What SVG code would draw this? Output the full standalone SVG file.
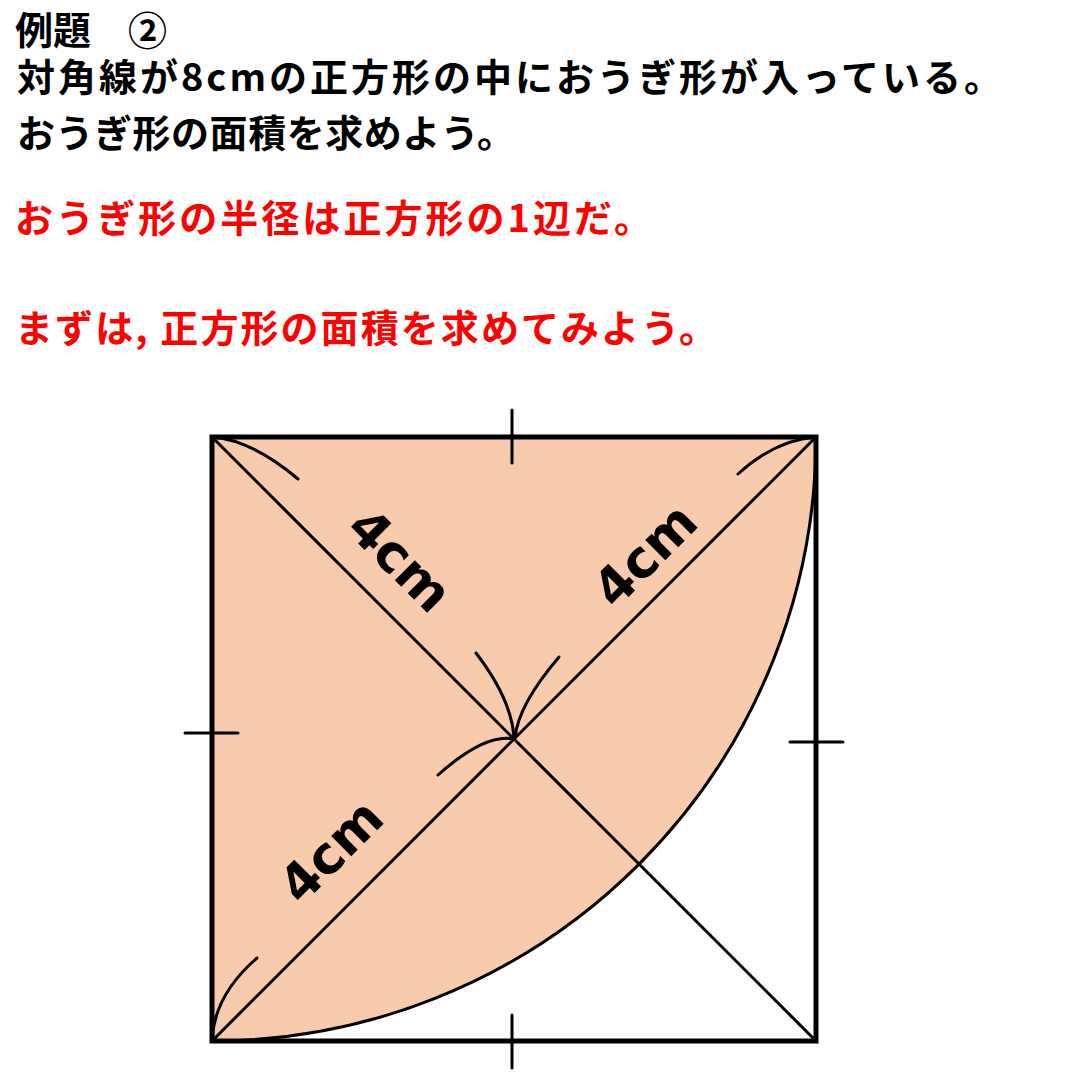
<svg xmlns="http://www.w3.org/2000/svg" width="1080" height="1080" viewBox="0 0 1080 1080">
<style>
.t{font-family:"Noto Sans CJK JP","Noto Sans",sans-serif;font-weight:bold;font-size:38px}
.blk{fill:#000}
.red{fill:#ff0000}
.ln{stroke:#000;stroke-width:3;fill:none;stroke-linecap:round}
.lbl{font-family:"DejaVu Sans","Liberation Sans",sans-serif;font-weight:bold;font-size:52px;fill:#000;text-anchor:middle;dominant-baseline:central}
</style>
<rect width="1080" height="1080" fill="#fff"/>
<g id="title">
<text class="t blk"><tspan x="15" y="44">例題</tspan><tspan x="128" y="45" style="font-size:39px">②</tspan><tspan x="17" y="91" textLength="985" lengthAdjust="spacing">対角線が8cmの正方形の中におうぎ形が入っている。</tspan><tspan x="17" y="147" textLength="498" lengthAdjust="spacing">おうぎ形の面積を求めよう。</tspan></text>
</g>
<g id="hints">
<text class="t red" x="15" y="232" textLength="637" lengthAdjust="spacing">おうぎ形の半径は正方形の1辺だ。</text>
<text class="t red" x="15" y="342" textLength="702" lengthAdjust="spacing">まずは, 正方形の面積を求めてみよう。</text>
</g>
<g id="sector">
<path d="M212,437 L816,437 A604,604 0 0 1 212,1041 Z" fill="#f7cbac" stroke="none"/>
<path d="M816,437 A604,604 0 0 1 212,1041" class="ln"/>
</g>
<g id="square">
<rect x="212" y="437" width="604" height="604" fill="none" stroke="#000" stroke-width="5"/>
</g>
<g id="connectors">
<line x1="212" y1="437" x2="816" y2="1041" class="ln"/>
<line x1="816" y1="437" x2="212" y2="1041" class="ln"/>
<path d="M212,437 Q252,440 298,479" class="ln"/>
<path d="M816,437 Q775,440 738,474" class="ln"/>
<path d="M476,653 Q512,700 514,738" class="ln"/>
<path d="M559,657 Q518,705 515,738" class="ln"/>
<path d="M438,775 Q485,733 514,739" class="ln"/>
<path d="M212,1041 Q214,995 257,958" class="ln"/>
</g>
<g id="ticks">
<line x1="512" y1="410" x2="512" y2="463" class="ln"/>
<line x1="512" y1="1015" x2="512" y2="1068" class="ln"/>
<line x1="185" y1="733" x2="238" y2="733" class="ln"/>
<line x1="790" y1="742" x2="843" y2="742" class="ln"/>
</g>
<g id="labels">
<text class="lbl" transform="translate(400,560) rotate(45)">4cm</text>
<text class="lbl" transform="translate(645,555) rotate(-45)">4cm</text>
<text class="lbl" transform="translate(331,851) rotate(-45)">4cm</text>
</g>
</svg>
